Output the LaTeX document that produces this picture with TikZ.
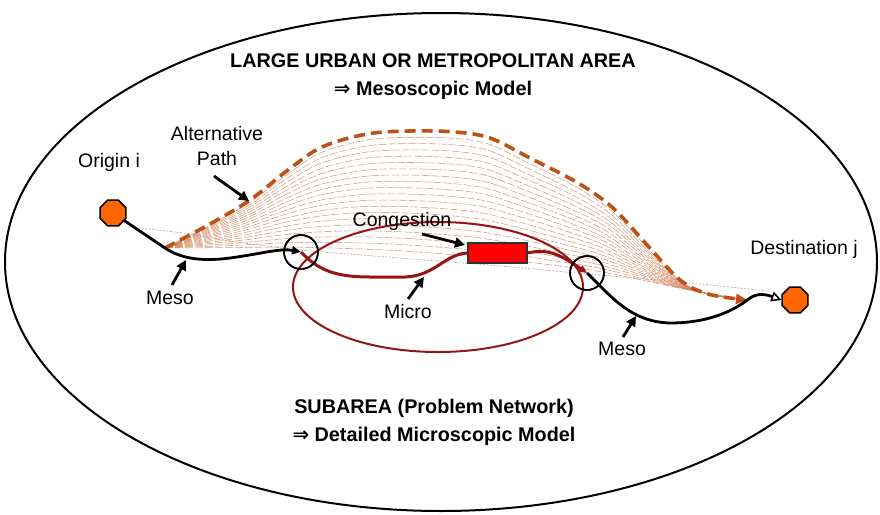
\documentclass[tikz,border=0pt]{standalone}
\usepackage{fontspec}
\setmainfont{Liberation Sans}
\newfontfamily\dejavu{DejaVu Sans}
\usetikzlibrary{arrows.meta,shapes.geometric,calc}
\definecolor{altbrown}{RGB}{190,82,20}
\definecolor{blendc}{RGB}{210,130,90}
\definecolor{microred}{RGB}{150,20,20}
\definecolor{octo}{RGB}{255,102,0}
\tikzset{
 lbl/.style={font=\fontsize{19.5}{25}\selectfont, inner sep=0pt, align=center},
 ttl/.style={font=\bfseries\fontsize{19.8}{28}\selectfont, align=center, inner sep=0pt},
 octonode/.style={regular polygon, regular polygon sides=8, fill=octo, draw=black, line width=1.5pt, minimum size=28pt, inner sep=0pt},
 junction/.style={circle, draw=black, line width=1.6pt, minimum size=34pt, inner sep=0pt},
 congbox/.style={draw=black!80, fill=red, line width=1.5pt, minimum width=59pt, minimum height=20pt, inner sep=0pt},
 pointer/.style={line width=2.8pt, -{Triangle[length=10pt,width=10pt]}},
 mesoline/.style={line width=2.8pt, black},
 microline/.style={line width=3pt, microred},
 altline/.style={line width=3.6pt, altbrown, dash pattern=on 11pt off 6pt},
 blend/.style={line width=0.55pt, blendc, dash pattern=on 8pt off 2pt, opacity=0.8},
 grayline/.style={line width=0.6pt, gray!70, dash pattern=on 2pt off 1.5pt},
 subarea/.style={ellipse, draw=microred, line width=2pt, minimum width=290pt, minimum height=130pt, inner sep=0pt},
 bigarea/.style={ellipse, draw=black, line width=2pt, minimum width=872pt, minimum height=498pt, inner sep=0pt},
}
\begin{document}
\begin{tikzpicture}[x=1pt,y=-1pt]
\useasboundingbox (0,0) rectangle (880,514);
\fill[white] (0,0) rectangle (880,514);
% large area
\node[bigarea] (area) at (441,262) {};
% alternative path points
\coordinate (a1) at (165,248); \coordinate (a2) at (210,224); \coordinate (a3) at (250,200);
\coordinate (a4) at (288,170); \coordinate (a5) at (322,147); \coordinate (a6) at (367,134);
\coordinate (a7) at (410,131); \coordinate (a8) at (455,132); \coordinate (a9) at (490,138);
\coordinate (a10) at (530,158); \coordinate (a11) at (578,183); \coordinate (a12) at (613,208);
\coordinate (a13) at (648,246); \coordinate (a14) at (680,280); \coordinate (a15) at (708,294);
\coordinate (a16) at (747,300);
% lower blend points
\coordinate (b1) at (165,248); \coordinate (b2) at (204,249); \coordinate (b3) at (243,250);
\coordinate (b4) at (282,251); \coordinate (b5) at (321,253); \coordinate (b6) at (360,255);
\coordinate (b7) at (399,257); \coordinate (b8) at (438,260); \coordinate (b9) at (477,263);
\coordinate (b10) at (516,266); \coordinate (b11) at (555,270); \coordinate (b12) at (594,274);
\coordinate (b13) at (633,280); \coordinate (b14) at (672,287); \coordinate (b15) at (710,294);
\coordinate (b16) at (747,300);
% blend lines
\foreach \k in {1,...,19}{
  \pgfmathsetmacro\f{\k/20}
  \draw[blend] plot[smooth,tension=0.55] coordinates {($(a1)!\f!(b1)$) ($(a2)!\f!(b2)$) ($(a3)!\f!(b3)$) ($(a4)!\f!(b4)$) ($(a5)!\f!(b5)$) ($(a6)!\f!(b6)$) ($(a7)!\f!(b7)$) ($(a8)!\f!(b8)$) ($(a9)!\f!(b9)$) ($(a10)!\f!(b10)$) ($(a11)!\f!(b11)$) ($(a12)!\f!(b12)$) ($(a13)!\f!(b13)$) ($(a14)!\f!(b14)$) ($(a15)!\f!(b15)$) ($(a16)!\f!(b16)$)};
}
% gray dotted line
\draw[grayline] plot[smooth] coordinates {(128,227) (183,233) (237,242) (300,250) (400,258) (500,266) (587,274) (680,282) (767,291)};
% subarea
\node[subarea] (sub) at (438,287) {};
% nodes
\node[octonode] (orig) at (113,213) {};
\node[octonode] (dest) at (795,300) {};
\node[junction] (j1) at (301,252) {};
\node[junction] (j2) at (587,273) {};
\node[congbox] (cong) at (497.5,253) {};
% alternative path
\draw[altline, -{Triangle[length=11pt,width=10pt]}] plot[smooth,tension=0.55] coordinates {(a1) (a2) (a3) (a4) (a5) (a6) (a7) (a8) (a9) (a10) (a11) (a12) (a13) (a14) (a15) (a16)};
% micro path
\draw[microline, line join=round] (j1.center) .. controls (318,270) and (335,277) .. (370,277) -- (405,277) .. controls (435,276) and (445,254) .. (cong.west);
\draw[microline, -{Triangle[length=8pt,width=7pt]}] (cong.east) .. controls (545,249) and (557,252) .. (j2.center);
% meso paths
\draw[mesoline, line join=round, -{Triangle[length=9pt,width=8pt]}] (orig) -- (165,248) .. controls (180,258) and (200,262) .. (230,258) .. controls (260,254) and (280,248) .. (j1.center);
\draw[mesoline, -{Triangle[open,length=10pt,width=10pt,line width=1.5pt]}] (j2.center) .. controls (610,295) and (630,322) .. (670,323) .. controls (710,323) and (735,310) .. (750,298) .. controls (758,293) and (765,294) .. (dest.west);
% redraw junction circles on top
\node[junction] at (j1) {};
\node[junction] at (j2) {};
\node[congbox] at (cong) {};
% titles
\node[ttl] (title) at (433,77) {LARGE URBAN OR METROPOLITAN AREA\\{\dejavu\bfseries ⇒} Mesoscopic Model};
\node[ttl] (subtitle) at (434,422) {SUBAREA (Problem Network)\\{\dejavu\bfseries ⇒} Detailed Microscopic Model};
% labels
\node[lbl] (originL) at (109,162) {Origin i};
\node[lbl] (altL) at (217,146) {Alternative\\Path};
\node[lbl] (destL) at (804,249) {Destination j};
\node[lbl] (meso1L) at (170,298) {Meso};
\node[lbl] (microL) at (408,312) {Micro};
\node[lbl] (congL) at (402,221) {Congestion};
\node[lbl] (meso2L) at (622,349) {Meso};
% pointers
\coordinate (p1s) at (172,285); \coordinate (p1e) at (186,260);
\coordinate (p2s) at (408,299); \coordinate (p2e) at (424,277);
\coordinate (p3s) at (422,234); \coordinate (p3e) at (465,245);
\coordinate (p4s) at (623,337); \coordinate (p4e) at (636,316);
\coordinate (p5s) at (214,176); \coordinate (p5e) at (249,201);
\draw[pointer] (p1s) -- (p1e);
\draw[pointer] (p2s) -- (p2e);
\draw[pointer] (p3s) -- (p3e);
\draw[pointer] (p4s) -- (p4e);
\draw[pointer] (p5s) -- (p5e);
\end{tikzpicture}
\end{document}
